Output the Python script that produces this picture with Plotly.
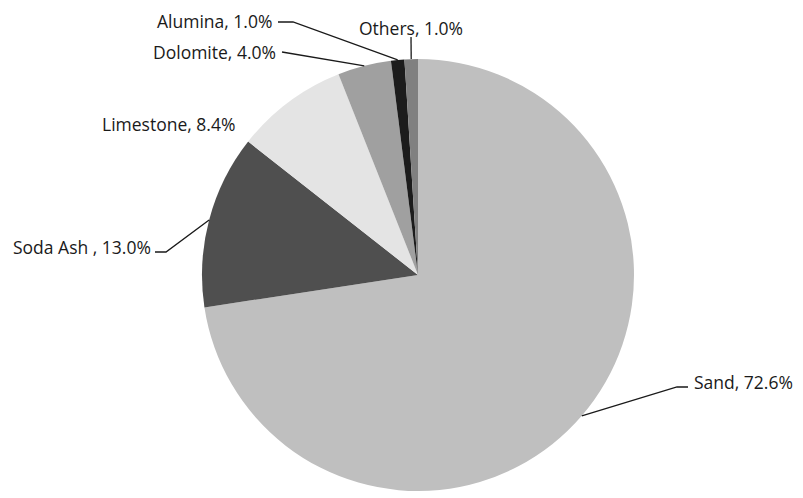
import math
import plotly.graph_objects as go

# Raw-material composition of glass batch (percent)
materials = ["Sand", "Soda Ash ", "Limestone", "Dolomite", "Alumina", "Others"]
shares = [72.6, 13.0, 8.4, 4.0, 1.0, 1.0]
colors = ["#bfbfbf", "#4f4f4f", "#e4e4e4", "#a0a0a0", "#1c1c1c", "#808080"]

W, H = 803, 498
CX, CY, R = 418, 275, 216  # pie centre and radius in pixels

# Label placement: text anchor (px), xanchor, and optional leader-line elbow points (px)
label_layout = {
    "Sand":      dict(tx=692, ty=382, xa="left",  elbow=[(677, 387), (688, 387)]),
    "Soda Ash ": dict(tx=153, ty=247, xa="right", elbow=[(166, 252), (155, 252)]),
    "Limestone": dict(tx=237, ty=124, xa="right", elbow=None),
    "Dolomite":  dict(tx=278, ty=52,  xa="right", elbow=[(282, 52)]),
    "Alumina":   dict(tx=274, ty=21,  xa="right", elbow=[(293, 22), (278, 22)]),
    "Others":    dict(tx=411, ty=28,  xa="center", elbow=[(411, 37)]),
}

fig = go.Figure(go.Pie(
    labels=materials,
    values=shares,
    sort=False,
    direction="clockwise",
    rotation=0,
    marker=dict(colors=colors, line=dict(width=0)),
    textinfo="none",
    hoverinfo="label+percent",
    showlegend=False,
    domain=dict(x=[(CX - R) / W, (CX + R) / W],
                y=[(H - CY - R) / H, (H - CY + R) / H]),
))


def px(x, y):
    return x / W, 1 - y / H


shapes, annotations = [], []
total = sum(shares)
cum = 0.0
for name, v in zip(materials, shares):
    mid = (cum + v / 2) / total * 2 * math.pi
    cum += v
    ex, ey = CX + R * math.sin(mid), CY - R * math.cos(mid)
    lay = label_layout[name]
    if lay["elbow"]:
        pts = [(ex, ey)] + lay["elbow"]
        path = "M " + " L ".join(f"{px(x, y)[0]},{px(x, y)[1]}" for x, y in pts)
        shapes.append(dict(type="path", xref="paper", yref="paper", path=path,
                           line=dict(color="#1a1a1a", width=1.3)))
    tx, ty = px(lay["tx"], lay["ty"])
    annotations.append(dict(
        x=tx, y=ty, xref="paper", yref="paper", xanchor=lay["xa"], yanchor="middle",
        text=f"{name}, {v:.1f}%", showarrow=False,
        font=dict(family="Open Sans", size=17.5, color="#1a1a1a"),
    ))

fig.update_layout(
    width=W, height=H,
    margin=dict(l=0, r=0, t=0, b=0),
    paper_bgcolor="white", plot_bgcolor="white",
    shapes=shapes, annotations=annotations,
)

fig.write_html("out.html")
